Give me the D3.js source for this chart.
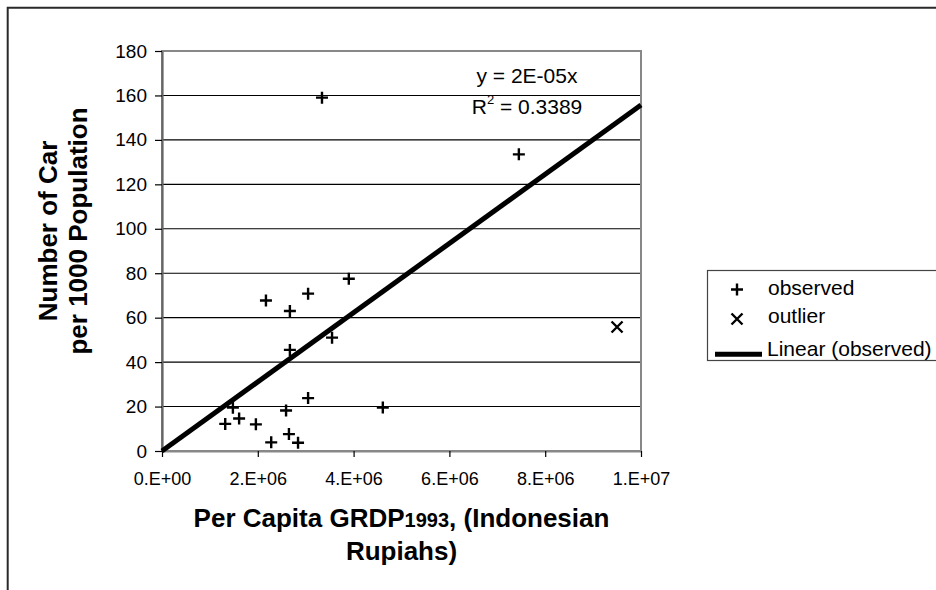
<!DOCTYPE html>
<html>
<head>
<meta charset="utf-8">
<script src="https://cdn.jsdelivr.net/npm/d3@7"></script>
<style>
  body { margin: 0; background: #fff; font-family: "Liberation Sans", Arial, sans-serif; }
</style>
</head>
<body>
<div id="chart"></div>
<script>
// observed points: per capita GRDP (Rp) and cars per 1000 population
const gdpObserved = [3.34e6, 7.45e6, 3.9e6, 3.05e6, 2.17e6, 2.67e6, 3.55e6, 2.67e6, 3.05e6,
    4.61e6, 1.48e6, 2.59e6, 1.61e6, 1.32e6, 1.96e6, 2.65e6, 2.28e6, 2.84e6];
const carsObserved = [159, 133.5, 77.5, 70.8, 67.7, 63, 51, 45.5, 23.8,
    19.6, 19.5, 18.2, 14.6, 12.2, 12, 7.6, 3.9, 3.7];
const gdpOutlier = [9.5e6];
const carsOutlier = [55.8];
const trendSlope = 1.557e-5;
const xTicks = [0, 2e6, 4e6, 6e6, 8e6, 1e7];
const xTickLabels = ["0.E+00", "2.E+06", "4.E+06", "6.E+06", "8.E+06", "1.E+07"];
const yTicks = [0, 20, 40, 60, 80, 100, 120, 140, 160, 180];
const legendLabels = ["observed", "outlier", "Linear (observed)"];

const W = 936, H = 590;
const margin = { top: 51, right: 295, bottom: 139, left: 162 };
const width = W - margin.left - margin.right;
const height = H - margin.top - margin.bottom;
const font = "Liberation Sans, Arial, sans-serif";

const svg = d3.select("#chart").append("svg")
    .attr("width", W)
    .attr("height", H)
    .attr("font-family", font);

// outer chart frame (runs off the right and bottom edges)
svg.append("path")
    .attr("d", `M7.7,${H + 5} L7.7,7.7 L${W + 5},7.7`)
    .attr("fill", "none")
    .attr("stroke", "#2a2a2a")
    .attr("stroke-width", 2);

const chart = svg.append("g")
    .attr("transform", `translate(${margin.left},${margin.top})`);

const x = d3.scaleLinear().domain([0, 1e7]).range([0, width]);
const y = d3.scaleLinear().domain([0, 180]).range([height, 0]);

// gridlines
chart.append("g")
    .selectAll("line")
    .data(yTicks.slice(1, -1))
    .enter()
    .append("line")
    .attr("x1", 0)
    .attr("x2", width)
    .attr("y1", d => y(d))
    .attr("y2", d => y(d))
    .attr("stroke", "#000")
    .attr("stroke-width", 1.1);

// plot area border
chart.append("rect")
    .attr("x", 0)
    .attr("y", 0)
    .attr("width", width)
    .attr("height", height)
    .attr("fill", "none")
    .attr("stroke", "#888")
    .attr("stroke-width", 2);

// axes
const yAxis = chart.append("g")
    .call(d3.axisLeft(y).tickValues(yTicks).tickSize(7).tickPadding(8).tickSizeOuter(0));
const xAxis = chart.append("g")
    .attr("transform", `translate(0,${height})`)
    .call(d3.axisBottom(x).tickValues(xTicks).tickSize(6).tickPadding(15).tickSizeOuter(0)
        .tickFormat((d, i) => xTickLabels[i]));

yAxis.attr("font-size", null).attr("font-family", null);
xAxis.attr("font-size", null).attr("font-family", null);
yAxis.selectAll("text").attr("font-size", 19).attr("fill", "#000");
xAxis.selectAll("text").attr("font-size", 18).attr("fill", "#000");
yAxis.select(".domain").attr("stroke", "#666").attr("stroke-width", 2.2);
xAxis.select(".domain").attr("stroke", "#888").attr("stroke-width", 2);
chart.selectAll(".tick line").attr("stroke", "#000").attr("stroke-width", 1.2);

// trend line through origin
chart.append("line")
    .attr("x1", x(0))
    .attr("y1", y(0))
    .attr("x2", x(1e7))
    .attr("y2", y(trendSlope * 1e7))
    .attr("stroke", "#000")
    .attr("stroke-width", 5);

// observed markers (+)
const plus = "M-6,0L6,0M0,-6L0,6";
const cross = "M-5.5,-5.5L5.5,5.5M-5.5,5.5L5.5,-5.5";
chart.append("g")
    .selectAll("path")
    .data(gdpObserved)
    .enter()
    .append("path")
    .attr("transform", (d, i) => `translate(${x(d)},${y(carsObserved[i])})`)
    .attr("d", plus)
    .attr("stroke", "#000")
    .attr("stroke-width", 2.4);

// outlier marker (x)
chart.append("g")
    .selectAll("path")
    .data(gdpOutlier)
    .enter()
    .append("path")
    .attr("transform", (d, i) => `translate(${x(d)},${y(carsOutlier[i])})`)
    .attr("d", cross)
    .attr("stroke", "#000")
    .attr("stroke-width", 2.4);

// regression equation
chart.append("text")
    .attr("font-size", 21)
    .attr("text-anchor", "middle")
    .attr("x", 365)
    .attr("y", 32)
    .text("y = 2E-05x");
const r2 = chart.append("text")
    .attr("font-size", 21)
    .attr("text-anchor", "middle")
    .attr("x", 365)
    .attr("y", 63);
r2.append("tspan").text("R");
r2.append("tspan").attr("font-size", 13).attr("dy", -10).text("2");
r2.append("tspan").attr("dy", 10).text(" = 0.3389");

// axis titles
const xTitle = svg.append("text")
    .attr("text-anchor", "middle")
    .attr("font-weight", "bold")
    .attr("font-size", 26)
    .attr("x", margin.left + width / 2)
    .attr("y", 527);
xTitle.append("tspan").text("Per Capita GRDP");
xTitle.append("tspan").attr("font-size", 20).text("1993");
xTitle.append("tspan").text(", (Indonesian");
svg.append("text")
    .attr("text-anchor", "middle")
    .attr("font-weight", "bold")
    .attr("font-size", 26)
    .attr("x", margin.left + width / 2)
    .attr("y", 560)
    .text("Rupiahs)");

const yTitle = svg.append("text")
    .attr("text-anchor", "middle")
    .attr("font-weight", "bold")
    .attr("font-size", 26)
    .attr("transform", "translate(0,231) rotate(-90)");
yTitle.append("tspan").attr("x", 0).attr("y", 57).text("Number of Car");
yTitle.append("tspan").attr("x", 0).attr("y", 87).text("per 1000 Population");

// legend
const legend = svg.append("g").attr("transform", "translate(707,270)");
legend.append("rect")
    .attr("x", 0.5)
    .attr("y", 0.5)
    .attr("width", 240)
    .attr("height", 90)
    .attr("fill", "#fff")
    .attr("stroke", "#444")
    .attr("stroke-width", 1.2);
legend.append("path").attr("d", plus).attr("transform", "translate(30,19.5)")
    .attr("stroke", "#000").attr("stroke-width", 2.4);
legend.append("path").attr("d", cross).attr("transform", "translate(30,49)")
    .attr("stroke", "#000").attr("stroke-width", 2.4);
legend.append("line").attr("x1", 8).attr("x2", 55).attr("y1", 84.3).attr("y2", 84.3)
    .attr("stroke", "#000").attr("stroke-width", 5);
const labelX = [61, 61, 60];
const labelY = [25, 52.7, 85.7];
legend.selectAll("text.lbl")
    .data(legendLabels)
    .enter()
    .append("text")
    .attr("class", "lbl")
    .attr("x", (d, i) => labelX[i])
    .attr("y", (d, i) => labelY[i])
    .attr("font-size", 21)
    .text(d => d);
</script>
</body>
</html>
